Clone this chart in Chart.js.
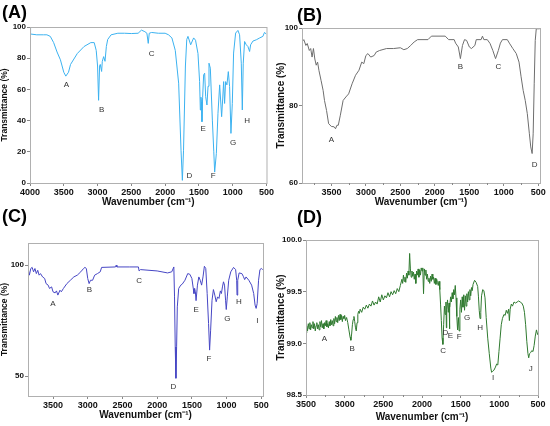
<!DOCTYPE html>
<html>
<head>
<meta charset="utf-8">
<script src="https://cdn.jsdelivr.net/npm/chart.js@4.4.1/dist/chart.umd.min.js"></script>
<style>
  body { margin:0; background:#fff; }
  #wrap { position:relative; width:550px; height:426px; overflow:hidden; }
  .pane { position:absolute; width:275px; height:213px; }
  .tag { position:absolute; font:bold 18px "Liberation Sans", Arial, sans-serif; color:#000; }
</style>
</head>
<body>
<div id="wrap">
  <div class="pane" style="left:0;top:0"><canvas id="cA"></canvas></div>
  <div class="pane" style="left:275px;top:0"><canvas id="cB"></canvas></div>
  <div class="pane" style="left:0;top:213px"><canvas id="cC"></canvas></div>
  <div class="pane" style="left:275px;top:213px"><canvas id="cD"></canvas></div>
  <div class="tag" style="left:2px;top:2px">(A)</div>
  <div class="tag" style="left:297px;top:5px">(B)</div>
  <div class="tag" style="left:2px;top:206px">(C)</div>
  <div class="tag" style="left:297px;top:207px">(D)</div>
</div>
<script>
// panel A - spectrum (blue)
const wnA = [4000,3992,3900,3800,3750,3700,3650,3600,3550,3500,3470,3430,3400,3300,3200,3100,3050,3020,3000,2985,2970,2960,2940,2930,2910,2890,2870,2850,2800,2700,2600,2500,2400,2350,2300,2270,2250,2235,2200,2100,2000,1950,1900,1850,1800,1765,1745,1728,1700,1680,1662,1622,1578,1550,1514,1490,1479,1470,1462,1455,1445,1430,1415,1400,1381,1365,1351,1331,1301,1280,1267,1242,1218,1193,1179,1164,1149,1134,1120,1105,1086,1065,1046,1026,1006,987,957,923,898,873,858,844,824,799,775,750,735,700,651,600,553,530,503];
const tA  = [100,95.5,95,95,95,94,90,84,79,71,68.5,71,76,83,87.5,90,90,85,75,53,75,76,71.5,78,81,78,87.5,92,95,96,96,95.8,96,98,97,96,89.5,96,96.5,96,96,95,93,85,64,21,1.7,21,75,92,94,88.6,93,91.5,83,65,46.8,55,52,39.3,55,69.3,70.4,55.3,50,62,76.8,73.6,40.3,20,7,19,44.7,62.9,53.2,42.5,53.2,65,51,65,62.9,71.4,61.8,31.8,51,83.3,96.1,97.8,95,76.8,46.8,76.8,90.7,88.6,87.5,84.3,88.6,91,91.8,93,94,96.5,95.5];
const xTicksA = [4000,3500,3000,2500,2000,1500,1000,500];
const yTicksA = [0,20,40,60,80,100];
const labA = ['A','B','C','D','E','F','G','H'];
const labAx = [3460,2940,2200,1640,1437,1290,994,787];
const labAy = [63,47,83,4.5,35,4.5,26,40];

// panel B - spectrum (grey)
const wnB = [3926,3900,3870,3850,3820,3800,3780,3760,3740,3720,3700,3680,3650,3620,3600,3570,3540,3500,3460,3440,3420,3400,3370,3330,3290,3250,3200,3150,3100,3060,3030,3000,2970,2930,2880,2850,2800,2700,2600,2500,2450,2400,2350,2300,2250,2100,2050,1850,1800,1720,1700,1660,1630,1600,1570,1540,1500,1470,1420,1400,1330,1310,1290,1240,1200,1160,1120,1080,1050,1020,950,920,870,820,780,750,720,690,660,630,610,590,575,560,545,530,480];
const tB  = [96.4,97,95.5,96,94.2,94.7,92.5,94.7,92,90.4,91.2,89,86.5,83.9,81.3,78.7,75.3,74.6,74.5,74,74.9,74.9,77.5,81.3,82.2,83,85.6,87.8,89.1,91.2,90.8,92.9,93.4,92.5,92.9,93.8,94.2,94.7,94.7,94.9,94.4,94.7,95.5,96.4,97,97,97.9,97.9,97,97,96.1,95.1,92.1,95.5,97,96.8,95.1,94.7,95.5,97,97,97.9,97,97,96,94.2,92.1,94.2,96.1,97,97,96.1,94.7,93.4,91.2,87.4,83.9,81.3,77.9,72.7,69.3,67.6,72.7,85.6,96.8,99.8,99.8];
const xTicksB = [3500,3000,2500,2000,1500,1000,500];
const xMinorB = [3750,3250,2750,2250,1750,1250,750];
const yTicksB = [60,80,100];
const labB = ['A','B','C','D'];
const labBx = [3500,1628,1081,554];
const labBy = [71.2,90.1,89.9,64.8];

// panel C - spectrum (indigo)
const wnC = [3860,3840,3820,3800,3780,3760,3740,3720,3700,3680,3650,3620,3600,3570,3550,3520,3500,3470,3450,3430,3400,3380,3350,3300,3250,3200,3150,3100,3060,3040,3020,3000,2980,2960,2930,2900,2860,2820,2800,2600,2590,2580,2400,2270,2260,2240,2000,1850,1790,1760,1750,1740,1730,1720,1710,1690,1660,1640,1600,1560,1530,1500,1480,1470,1460,1450,1440,1420,1400,1380,1360,1340,1320,1300,1280,1260,1245,1230,1210,1190,1170,1150,1130,1110,1090,1075,1060,1045,1030,1015,1005,990,970,940,900,870,855,850,840,820,780,760,740,720,680,640,610,590,575,560,540,520,500,480];
const tC  = [98.5,95.5,98.5,99,97,98.5,96.2,97.7,95.5,96.2,94.7,94,91.7,91,89.5,90.2,88,87.5,88.4,86.5,88.7,88,89.5,91.7,93.2,94.7,95.5,97,98.5,99,98.5,94,91.7,93.2,93.2,95.5,96.2,97,99,99.2,100,99.2,99.2,99.2,97.4,98,97.4,96.5,97,99.2,85.7,63.2,49,63.2,81.2,89.5,91,91.4,93.2,96.2,95.9,94,89.5,87.2,89.5,88,84,91,94.7,93.2,91,94.7,99.5,98.5,87.2,73.7,61.7,70.7,84.2,89,86.5,83.5,85.7,85,88.4,87.2,90.2,92.5,91,84.2,80,85.7,93.2,97,99,98,93.2,86.5,93.2,96.5,96.2,95,93.5,94.7,93.2,91,87.2,82,80.5,82.7,93.2,98,98.5,98];
const xTicksC = [3500,3000,2500,2000,1500,1000,500];
const yTicksC = [50,100];
const labC = ['A','B','C','D','E','F','G','H','I'];
const labCx = [3500,2976,2261,1766,1440,1253,989,823,556];
const labCy = [82.4,88.7,92.9,45.2,79.7,58,76,83.5,74.9];

// panel D - spectrum (green, noisy)
const wnD = [3500,3490,3480,3470,3460,3450,3440,3430,3420,3410,3400,3390,3380,3370,3360,3350,3340,3330,3320,3310,3300,3290,3280,3270,3260,3250,3240,3230,3220,3210,3200,3190,3180,3170,3160,3150,3140,3130,3120,3110,3100,3090,3080,3070,3060,3050,3040,3030,3020,3010,3000,2990,2975,2960,2945,2930,2920,2910,2900,2890,2880,2870,2860,2850,2840,2830,2820,2810,2800,2780,2760,2740,2720,2700,2680,2660,2640,2620,2600,2580,2560,2540,2520,2500,2480,2460,2440,2420,2400,2380,2360,2340,2320,2300,2280,2260,2250,2240,2230,2220,2210,2200,2190,2180,2170,2160,2150,2140,2130,2120,2110,2100,2090,2080,2070,2060,2050,2040,2030,2020,2010,2000,1990,1980,1970,1960,1950,1940,1930,1920,1910,1900,1890,1880,1870,1860,1850,1840,1830,1820,1810,1800,1790,1780,1770,1760,1750,1740,1730,1720,1710,1700,1690,1685,1680,1670,1660,1650,1645,1640,1630,1620,1610,1600,1590,1580,1570,1560,1550,1540,1530,1520,1510,1500,1490,1480,1470,1460,1450,1440,1430,1420,1410,1400,1390,1380,1370,1360,1350,1340,1320,1300,1280,1270,1260,1250,1240,1230,1215,1200,1185,1170,1150,1130,1110,1100,1085,1070,1050,1035,1020,1005,990,975,960,940,925,910,895,880,870,860,845,830,810,790,770,750,730,710,690,675,660,645,630,620,610,595,580,565,550,535,520,510,500];
const tD  = [99.10,99.17,99.12,99.19,99.14,99.20,99.13,99.18,99.15,99.21,99.14,99.19,99.12,99.17,99.20,99.14,99.18,99.13,99.21,99.16,99.22,99.15,99.19,99.14,99.20,99.17,99.22,99.16,99.19,99.15,99.21,99.17,99.23,99.18,99.22,99.17,99.24,99.19,99.26,99.21,99.25,99.20,99.27,99.22,99.28,99.23,99.27,99.21,99.26,99.24,99.27,99.22,99.25,99.20,99.13,99.06,99.03,99.09,99.18,99.23,99.26,99.21,99.15,99.12,99.20,99.28,99.31,99.29,99.33,99.30,99.35,99.33,99.37,99.34,99.38,99.36,99.41,99.37,99.40,99.38,99.45,99.40,99.47,99.42,99.46,99.44,99.49,99.45,99.50,99.47,99.51,99.48,99.53,99.50,99.56,99.62,99.58,99.66,99.60,99.64,99.59,99.68,99.63,99.70,99.66,99.87,99.72,99.64,99.70,99.65,99.69,99.62,99.67,99.58,99.70,99.66,99.72,99.64,99.71,99.66,99.73,99.70,99.73,99.48,99.72,99.66,99.71,99.62,99.67,99.60,99.63,99.58,99.65,99.60,99.67,99.62,99.64,99.58,99.63,99.57,99.62,99.59,99.56,99.60,99.52,99.38,99.22,99.05,98.99,99.18,99.36,99.28,99.40,99.15,99.33,99.42,99.30,99.39,99.14,99.35,99.45,99.40,99.49,99.43,99.52,99.47,99.56,99.44,99.26,99.13,99.25,99.12,99.33,99.42,99.30,99.45,99.35,99.47,99.32,99.46,99.36,99.48,99.40,99.50,99.42,99.52,99.46,99.54,99.51,99.57,99.61,99.59,99.55,99.45,99.32,99.24,99.30,99.46,99.52,99.51,99.44,99.25,99.05,98.90,98.76,98.72,98.73,98.74,98.77,98.80,98.79,98.92,99.05,99.18,99.24,99.28,99.27,99.32,99.29,99.33,99.22,99.33,99.38,99.36,99.40,99.39,99.40,99.41,99.40,99.39,99.36,99.30,99.18,99.02,98.90,98.86,98.90,98.91,98.93,98.92,98.98,99.07,99.13,99.10,99.08];
const xTicksD = [3500,3000,2500,2000,1500,1000,500];
const xMinorD = [3250,2750,2250,1750,1250,750];
const yTicksD = [98.5,99.0,99.5,100.0];
const labD = ['A','B','C','D','E','F','G','H','I','J'];
const labDx = [3263,2902,1727,1696,1632,1520,1416,1249,1081,594];
const labDy = [99.04,98.95,98.93,99.10,99.07,99.06,99.25,99.15,98.67,98.75];

const FONT = '"Liberation Sans", Arial, sans-serif';

// frame, minor ticks + peak letters
const panelPlugin = {
  id: 'panelDeco',
  afterDatasetsDraw(chart, args, opts) {
    const ctx = chart.ctx, a = chart.chartArea;
    const sx = chart.scales.x, sy = chart.scales.y;
    ctx.save();
    ctx.strokeStyle = '#b0b0b0';
    ctx.lineWidth = 1;
    ctx.strokeRect(a.left + 0.5, a.top + 0.5, a.right - a.left, a.bottom - a.top);
    ctx.strokeStyle = '#888';
    (opts.minor || []).forEach(v => {
      const px = Math.round(sx.getPixelForValue(v)) + 0.5;
      ctx.beginPath();
      ctx.moveTo(px, a.bottom);
      ctx.lineTo(px, a.bottom + 2);
      ctx.stroke();
    });
    ctx.fillStyle = '#333';
    ctx.font = '8px ' + FONT;
    ctx.textAlign = 'center';
    ctx.textBaseline = 'middle';
    opts.labels.forEach((t, i) => {
      ctx.fillText(t, sx.getPixelForValue(opts.lx[i]), sy.getPixelForValue(opts.ly[i]));
    });
    ctx.restore();
  }
};

function makePanel(id, wn, tr, cfg) {
  const pts = wn.map((w, i) => ({x: w, y: tr[i]}));
  return new Chart(document.getElementById(id), {
    type: 'line',
    data: { datasets: [{ data: pts, borderColor: cfg.color, borderWidth: 1, pointRadius: 0, tension: 0, fill: false }] },
    options: {
      responsive: true,
      maintainAspectRatio: false,
      animation: false,
      layout: { padding: { left: 0, right: cfg.pr, top: cfg.pt, bottom: cfg.pb } },
      plugins: {
        legend: { display: false },
        tooltip: { enabled: false },
        panelDeco: { labels: cfg.labels, lx: cfg.lx, ly: cfg.ly, minor: cfg.minor }
      },
      scales: {
        x: {
          type: 'linear', reverse: true, min: cfg.xmin, max: cfg.xmax,
          afterBuildTicks: s => { s.ticks = cfg.xt.map(v => ({value: v})); },
          afterFit: s => { s.height = cfg.xh; },
          grid: { drawOnChartArea: false, tickLength: 3, color: '#888' },
          border: { color: '#b0b0b0' },
          ticks: { font: { family: FONT, size: 9, weight: 'bold' }, color: '#111', padding: 1, maxRotation: 0, autoSkip: false,
                   callback: v => String(v) },
          title: { display: true, text: 'Wavenumber (cm\u207B\u00B9)', font: { family: FONT, size: 10, weight: 'bold' }, color: '#111', padding: { top: 0, bottom: 0 } }
        },
        y: {
          min: cfg.ymin, max: cfg.ymax,
          afterBuildTicks: s => { s.ticks = cfg.yt.map(v => ({value: v})); },
          afterFit: s => { s.width = cfg.yw; },
          grid: { drawOnChartArea: false, tickLength: 3, color: '#888' },
          border: { color: '#b0b0b0' },
          ticks: { font: { family: FONT, size: 8, weight: 'bold' }, color: '#111', padding: 1,
                   callback: v => cfg.dec ? v.toFixed(1) : String(v) },
          title: { display: true, text: 'Transmittance (%)', font: { family: FONT, size: cfg.yts, weight: 'bold' }, color: '#111', padding: { top: 0, bottom: 1 } }
        }
      }
    },
    plugins: [panelPlugin]
  });
}

makePanel('cA', wnA, tA, { color: '#3cb2f0', xmin: 500, xmax: 4000, ymin: 0, ymax: 100, xt: xTicksA, yt: yTicksA,
  pr: 8, pt: 27, pb: 5, xh: 25, yw: 30, yts: 8.5, labels: labA, lx: labAx, ly: labAy });
makePanel('cB', wnB, tB, { color: '#6e6e6e', xmin: 476, xmax: 3926, ymin: 60, ymax: 100, xt: xTicksB, yt: yTicksB,
  pr: 10, pt: 28, pb: 5, xh: 25, yw: 27, yts: 10, minor: xMinorB, labels: labB, lx: labBx, ly: labBy });
makePanel('cC', wnC, tC, { color: '#4646c4', xmin: 476, xmax: 3860, ymin: 41, ymax: 110, xt: xTicksC, yt: yTicksC,
  pr: 12, pt: 30, pb: 5, xh: 25, yw: 28, yts: 8.5, labels: labC, lx: labCx, ly: labCy });
makePanel('cD', wnD, tD, { color: '#2f7a2f', xmin: 500, xmax: 3500, ymin: 98.5, ymax: 100, xt: xTicksD, yt: yTicksD,
  pr: 12, pt: 27, pb: 3, xh: 28, yw: 31, yts: 10, dec: true, minor: xMinorD, labels: labD, lx: labDx, ly: labDy });
</script>
</body>
</html>
